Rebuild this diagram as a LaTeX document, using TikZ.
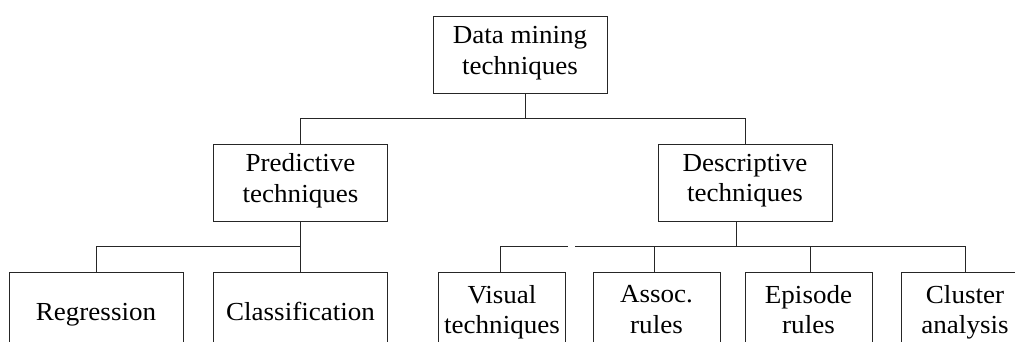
\documentclass[tikz,border=0pt]{standalone}
\usepackage{fontspec}
\setmainfont{Liberation Serif}[FakeStretch=1.04]
\usepackage{tikz}
\usetikzlibrary{positioning,calc}

\begin{document}
\begin{tikzpicture}[
    x=1pt,
    y=-1pt,
    font=\fontsize{26}{30.5}\selectfont,
    box/.style={
        draw=black!85,
        line width=0.9pt,
        inner sep=0pt,
        minimum width=174pt,
        minimum height=77pt,
        align=center,
        fill=white,
        execute at begin node={\rule{0pt}{25.5pt}},
        execute at end node=\strut
    },
    bottom/.style={
        box,
        minimum height=80pt
    },
    leaf/.style={
        box,
        minimum width=127pt,
        minimum height=84pt
    },
    conn/.style={draw=black!85, line width=0.9pt}
]
\useasboundingbox (0,0) rectangle (1015,342);
\clip (0,0) rectangle (1015,342);

% root
\node[box] (root) at (520,55) {Data mining\\techniques};

% second row
\node[box] (pred) at (300.5,182.5) {Predictive\\techniques};
\node[box] (desc) at (745,182.5) {Descriptive\\techniques};

% third row
\node[bottom] (reg) at (96,312) {Regression};
\node[bottom] (cls) at (300.5,312) {Classification};
\node[leaf] (vis) at (502,314) {Visual\\techniques};
\node[leaf] (assoc) at (656.5,314) {Assoc.\\rules};
\node[leaf] (epi) at (808.5,314) {Episode\\rules};
\node[leaf] (clu) at (965,314) {Cluster\\analysis};

% bus lines
\coordinate (busA) at (0,118);
\coordinate (busB) at (0,246);
\coordinate (gapL) at (568,246);
\coordinate (gapR) at (575,246);

\draw[conn] ([xshift=5pt]root.south) -- ([xshift=5pt]root.south |- busA);
\draw[conn] (pred.north) -- (pred.north |- busA) -| (desc.north);

\draw[conn] (pred.south) -- (cls.north);
\draw[conn] (reg.north) -- (reg.north |- busB) -| (cls.north);

\draw[conn] ([xshift=-9pt]desc.south) -- ([xshift=-9pt]desc.south |- busB);
\draw[conn] ([xshift=-2pt]vis.north) -- ([xshift=-2pt]vis.north |- busB) -- (gapL);
\draw[conn] (gapR) -| (clu.north);
\draw[conn] ([xshift=-2pt]assoc.north) -- ([xshift=-2pt]assoc.north |- busB);
\draw[conn] ([xshift=2pt]epi.north) -- ([xshift=2pt]epi.north |- busB);

\end{tikzpicture}
\end{document}
